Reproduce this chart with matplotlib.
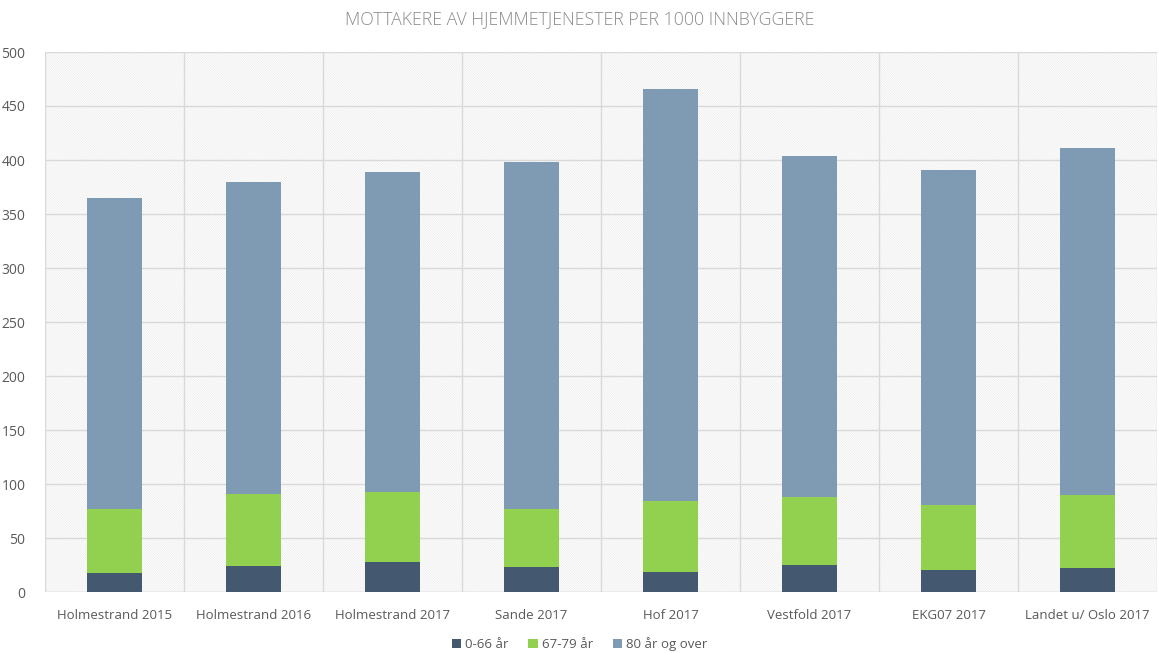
import numpy as np
import matplotlib
matplotlib.use('Agg')
import matplotlib.pyplot as plt

# Data
categories = ['Holmestrand 2015', 'Holmestrand 2016', 'Holmestrand 2017',
              'Sande 2017', 'Hof 2017', 'Vestfold 2017', 'EKG07 2017',
              'Landet u/ Oslo 2017']
age_0_66 = [18, 24, 28, 23, 18.5, 25, 20, 22]
age_67_79 = [59, 67, 65, 54, 66, 63, 61, 68]
age_80_plus = [288, 289, 296, 321, 381, 316, 310, 321]

series_labels = ['0-66 år', '67-79 år', '80 år og over']
colours = ['#44586F', '#92D050', '#7F9AB3']

plt.rcParams['font.family'] = ['Open Sans', 'DejaVu Sans']
plt.rcParams['hatch.color'] = '#e6e6e6'
plt.rcParams['hatch.linewidth'] = 0.4

fig = plt.figure(figsize=(11.59, 6.53), dpi=100)
ax = fig.add_axes([45 / 1159, 1 - 592 / 653, 1112 / 1159, 540 / 653])

# fine hatched background
ax.patch.set_facecolor('white')
ax.patch.set_hatch('\\' * 14)
ax.patch.set_edgecolor('#e6e6e6')

x = np.arange(len(categories))
width = 0.4
bottom = np.zeros(len(categories))
for vals, lab, col in zip([age_0_66, age_67_79, age_80_plus], series_labels, colours):
    ax.bar(x, vals, width, bottom=bottom, color=col, label=lab, zorder=3)
    bottom += np.array(vals)

ax.set_xlim(-0.5, len(categories) - 0.5)
ax.set_ylim(0, 500)
ax.set_yticks(np.arange(0, 501, 50))
ax.grid(axis='y', color='#d9d9d9', linewidth=1, zorder=1)
for b in np.arange(-0.5, len(categories), 1):
    ax.axvline(b, color='#d9d9d9', linewidth=1, zorder=1)

for s in ax.spines.values():
    s.set_visible(False)
ax.axhline(0, color='#d9d9d9', linewidth=1, zorder=2)

ax.set_xticks(x)
ax.set_xticklabels(categories)
ax.tick_params(axis='both', length=0, labelsize=9.5, labelcolor='#595959')
ax.tick_params(axis='x', pad=12)
ax.tick_params(axis='y', pad=14)
for t in ax.get_yticklabels():
    t.set_fontsize(10)

fig.suptitle('MOTTAKERE AV HJEMMETJENESTER PER 1000 INNBYGGERE',
             y=1 - 19 / 653, fontsize=12.8, color='#8c8c8c',
             fontweight='light', va='center')

fig.legend(loc='center', bbox_to_anchor=(0.5, 1 - 644 / 653), ncol=3,
           frameon=False, fontsize=9.5, labelcolor='#595959',
           handlelength=0.7, handleheight=0.7, handletextpad=0.3,
           columnspacing=1.5)

plt.savefig('out.png', dpi=100)
plt.close()
